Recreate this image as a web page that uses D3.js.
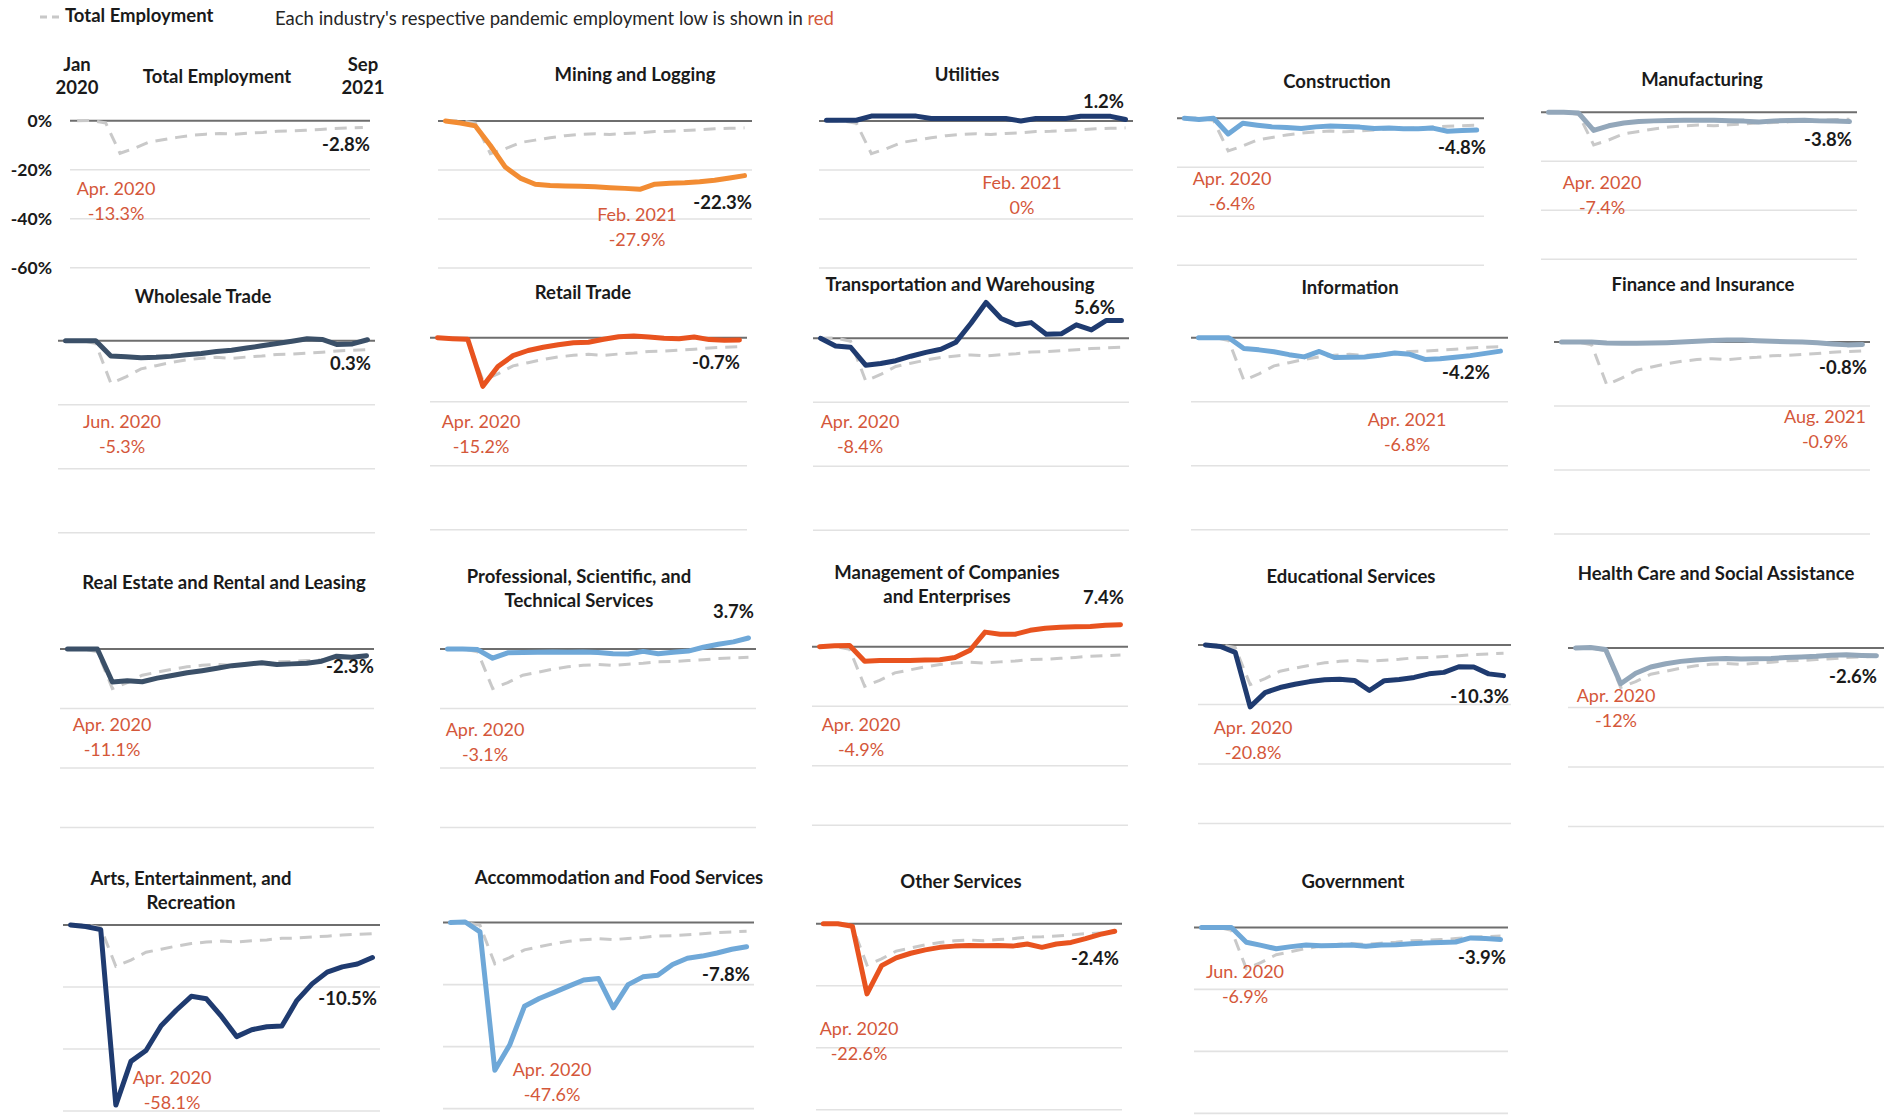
<!DOCTYPE html>
<html>
<head>
<meta charset="UTF-8">
<style>
  body { margin: 0; background: #fff; }
  svg { display: block; font-family: Lato, "Open Sans", sans-serif; }
</style>
</head>
<body>
<script src="https://cdn.jsdelivr.net/npm/d3@7/dist/d3.min.js"></script>
<script>

var width = 1891, height = 1115;

// ---- data ----
var months = ["Jan 2020", "Feb 2020", "Mar 2020", "Apr 2020", "May 2020", "Jun 2020", "Jul 2020",
  "Aug 2020", "Sep 2020", "Oct 2020", "Nov 2020", "Dec 2020", "Jan 2021", "Feb 2021", "Mar 2021",
  "Apr 2021", "May 2021", "Jun 2021", "Jul 2021", "Aug 2021", "Sep 2021"];

var yTicks = [0, -20, -40, -60];

// % change in employment since Jan 2020
var totalEmployment = [0, 0.1, -0.9, -13.3, -11.3, -8.8, -7.8, -6.8, -6.0, -5.5, -5.2, -5.5, -5.1, -4.8, -4.3, -4.2, -3.9, -3.6, -3.2, -3.0, -2.8];
var miningLogging  = [0, -0.8, -2.0, -10.0, -18.8, -23.3, -25.8, -26.3, -26.5, -26.6, -26.8, -27.2, -27.5, -27.9, -25.8, -25.4, -25.2, -24.8, -24.2, -23.3, -22.3];
var utilities      = [0.3, 0.3, 0.3, 2.0, 2.0, 2.0, 2.0, 1.0, 1.0, 1.0, 1.0, 1.0, 1.0, 0.0, 1.0, 1.0, 1.0, 1.9, 1.9, 1.9, 0.6];
var construction   = [0, -0.5, 0, -6.4, -2.0, -2.8, -3.5, -3.8, -4.2, -3.5, -3.1, -3.3, -3.6, -4.2, -4.0, -4.3, -4.3, -4.0, -5.3, -5.0, -4.8];
var manufacturing  = [0, 0, -0.3, -7.4, -5.5, -4.4, -3.8, -3.5, -3.3, -3.2, -3.2, -3.2, -3.4, -3.6, -4.0, -3.5, -3.3, -3.2, -3.5, -3.6, -3.8];
var wholesale      = [0, 0, 0, -4.8, -5.0, -5.3, -5.2, -4.9, -4.4, -4.0, -3.4, -3.0, -2.3, -1.6, -0.9, -0.2, 0.6, 0.4, -1.2, -1.0, 0.3];
var retail         = [0, -0.3, -0.5, -15.2, -9.0, -5.6, -4.0, -3.0, -2.2, -1.6, -1.4, -0.5, 0.3, 0.5, 0.2, -0.2, -0.3, 0.2, -0.6, -0.8, -0.7];
var transportation = [0, -2.4, -2.8, -8.4, -7.9, -7.0, -5.6, -4.4, -3.4, -1.2, 4.7, 11.2, 6.2, 4.2, 4.9, 1.3, 1.4, 4.2, 2.6, 5.6, 5.6];
var information    = [0, 0, 0, -3.4, -3.8, -4.4, -5.3, -6.0, -4.3, -6.2, -6.1, -6.0, -5.5, -4.8, -5.2, -6.8, -6.6, -6.1, -5.6, -4.9, -4.2];
var finance        = [0, 0, 0, -0.3, -0.4, -0.4, -0.3, -0.2, 0, 0.2, 0.5, 0.6, 0.6, 0.4, 0.2, 0.1, 0, -0.2, -0.6, -0.9, -0.8];
var realEstate     = [0, 0, 0, -11.1, -10.7, -11.0, -9.8, -8.9, -8.0, -7.3, -6.5, -5.6, -5.1, -4.6, -5.2, -5.0, -4.8, -4.1, -2.4, -2.8, -2.3];
var professional   = [0, 0, -0.2, -3.1, -1.3, -1.2, -1.1, -1.0, -1.1, -1.0, -1.2, -1.6, -1.7, -0.8, -1.6, -1.1, -0.7, 0.6, 1.6, 2.4, 3.7];
var management     = [0, 0.3, 0.4, -4.9, -4.6, -4.6, -4.6, -4.5, -4.4, -3.6, -1.2, 4.9, 4.2, 4.2, 5.5, 6.2, 6.5, 6.7, 6.8, 7.2, 7.4];
var educational    = [0, -0.5, -2.5, -20.8, -16.0, -14.3, -13.2, -12.3, -11.7, -11.5, -11.9, -15.3, -12.0, -11.6, -10.9, -9.7, -9.2, -7.3, -7.4, -9.7, -10.3];
var healthCare     = [0, 0.2, -0.5, -12.0, -8.5, -6.4, -5.3, -4.5, -4.0, -3.7, -3.5, -3.7, -3.6, -3.5, -3.2, -3.0, -2.8, -2.4, -2.3, -2.5, -2.6];
var arts           = [0, -0.5, -1.5, -58.1, -44.0, -40.5, -32.5, -27.5, -23.0, -23.8, -29.5, -36.0, -33.8, -32.8, -32.6, -24.3, -19.0, -15.2, -13.5, -12.6, -10.5];
var accommodation  = [0, 0.2, -3.0, -47.6, -39.5, -27.0, -24.5, -22.5, -20.5, -18.5, -18.0, -27.5, -20.0, -17.5, -17.0, -13.5, -11.5, -10.8, -9.8, -8.6, -7.8];
var otherServices  = [0, 0, -0.8, -22.6, -13.5, -11.0, -9.5, -8.4, -7.6, -7.2, -7.0, -7.1, -7.0, -7.2, -6.5, -7.6, -6.5, -6.0, -4.8, -3.4, -2.4];
var government     = [0, 0, 0, -4.8, -5.8, -6.9, -6.2, -5.7, -5.9, -5.8, -5.7, -6.1, -5.7, -5.6, -5.3, -5.0, -4.9, -4.7, -3.4, -3.6, -3.9];

var panelTitles = ["Total Employment", "Mining and Logging", "Utilities", "Construction", "Manufacturing",
  "Wholesale Trade", "Retail Trade", "Transportation and Warehousing", "Information", "Finance and Insurance",
  "Real Estate and Rental and Leasing", "Professional, Scientific, and|Technical Services",
  "Management of Companies|and Enterprises", "Educational Services", "Health Care and Social Assistance",
  "Arts, Entertainment, and|Recreation", "Accommodation and Food Services", "Other Services", "Government"];

var panelSeries = [null, miningLogging, utilities, construction, manufacturing,
  wholesale, retail, transportation, information, finance,
  realEstate, professional, management, educational, healthCare,
  arts, accommodation, otherServices, government];

var finalLabels = ["-2.8%", "-22.3%", "1.2%", "-4.8%", "-3.8%", "0.3%", "-0.7%", "5.6%", "-4.2%", "-0.8%",
  "-2.3%", "3.7%", "7.4%", "-10.3%", "-2.6%", "-10.5%", "-7.8%", "-2.4%", "-3.9%"];
var lowMonths = ["Apr. 2020", "Feb. 2021", "Feb. 2021", "Apr. 2020", "Apr. 2020", "Jun. 2020", "Apr. 2020",
  "Apr. 2020", "Apr. 2021", "Aug. 2021", "Apr. 2020", "Apr. 2020", "Apr. 2020", "Apr. 2020", "Apr. 2020",
  "Apr. 2020", "Apr. 2020", "Apr. 2020", "Jun. 2020"];
var lowValues = ["-13.3%", "-27.9%", "0%", "-6.4%", "-7.4%", "-5.3%", "-15.2%", "-8.4%", "-6.8%", "-0.9%",
  "-11.1%", "-3.1%", "-4.9%", "-20.8%", "-12%", "-58.1%", "-47.6%", "-22.6%", "-6.9%"];

// ---- styles & layout ----
var NAVY = "#1f3b70", ORANGE = "#f28c33", RED = "#e8531f", LIGHT = "#6fa8d8", GREYBLUE = "#93a7ba", SLATE = "#3b5068";
var lineColors = [null, ORANGE, NAVY, LIGHT, GREYBLUE, SLATE, RED, NAVY, LIGHT, GREYBLUE,
  SLATE, LIGHT, RED, NAVY, GREYBLUE, NAVY, LIGHT, RED, LIGHT];
var lowColor = "#d4573a";
var boldSize = "18.5px";

// pixels per 20 percentage points, per row of small charts
var rowStep = [49, 64, 59.5, 62];

// plot box: x0, x1, y of 0%, row; then title, last-value label and low label anchors
var layout = [
  {x0: 70,   x1: 370,  zero: 120.7, row: 0, title: [217, 77],   last: [370, 145],  low: [116, 189]},
  {x0: 438,  x1: 752,  zero: 121,   row: 0, title: [635, 75],   last: [752, 203],  low: [637, 215]},
  {x0: 819,  x1: 1133, zero: 121,   row: 0, title: [967, 75],   last: [1124, 102], low: [1022, 183]},
  {x0: 1177, x1: 1484, zero: 118.3, row: 0, title: [1337, 82],  last: [1486, 148], low: [1232, 179]},
  {x0: 1541, x1: 1857, zero: 112.3, row: 0, title: [1702, 80],  last: [1852, 140], low: [1602, 183]},
  {x0: 58,   x1: 375,  zero: 340.7, row: 1, title: [203, 297],  last: [371, 364],  low: [122, 422]},
  {x0: 430,  x1: 747,  zero: 337.7, row: 1, title: [583, 293],  last: [740, 363],  low: [481, 422]},
  {x0: 813,  x1: 1129, zero: 338.3, row: 1, title: [960, 285],  last: [1115, 308], low: [860, 422]},
  {x0: 1191, x1: 1508, zero: 337.7, row: 1, title: [1350, 288], last: [1490, 373], low: [1407, 420]},
  {x0: 1554, x1: 1870, zero: 342,   row: 1, title: [1703, 285], last: [1867, 368], low: [1825, 417]},
  {x0: 60,   x1: 374,  zero: 649,   row: 2, title: [224, 583],  last: [374, 667],  low: [112, 725]},
  {x0: 440,  x1: 756,  zero: 649,   row: 2, title: [579, 577],  last: [754, 612],  low: [485, 730]},
  {x0: 812,  x1: 1128, zero: 646.7, row: 2, title: [947, 573],  last: [1124, 598], low: [861, 725]},
  {x0: 1198, x1: 1511, zero: 645,   row: 2, title: [1351, 577], last: [1509, 697], low: [1253, 728]},
  {x0: 1568, x1: 1884, zero: 648,   row: 2, title: [1716, 574], last: [1877, 677], low: [1616, 696]},
  {x0: 63,   x1: 380,  zero: 925,   row: 3, title: [191, 879],  last: [377, 999],  low: [172, 1078]},
  {x0: 443,  x1: 754,  zero: 922.6, row: 3, title: [619, 878],  last: [750, 975],  low: [552, 1070]},
  {x0: 816,  x1: 1122, zero: 923.8, row: 3, title: [961, 882],  last: [1119, 959], low: [859, 1029]},
  {x0: 1194, x1: 1508, zero: 927.4, row: 3, title: [1353, 882], last: [1506, 958], low: [1245, 972]}
];

var svg = d3.select("body").append("svg")
    .attr("width", width).attr("height", height);

// header legend
var head = svg.append("g");
head.append("line")
    .attr("x1", 40).attr("x2", 61).attr("y1", 17).attr("y2", 17)
    .style("stroke", "#c8c8c8").style("stroke-width", 3).style("stroke-dasharray", "7,5");
head.append("text")
    .attr("x", 65).attr("y", 16).attr("dy", "0.35em")
    .style("font-size", boldSize).style("font-weight", "bold").style("fill", "#1a1a1a")
    .text("Total Employment");
var note = head.append("text")
    .attr("x", 275).attr("y", 19).attr("dy", "0.35em")
    .style("font-size", "18.5px").style("fill", "#262626");
note.append("tspan").text("Each industry's respective pandemic employment low is shown in ");
note.append("tspan").style("fill", lowColor).text("red");

var line = d3.line().curve(d3.curveLinear);

layout.forEach(function(p, i) {
  var x = d3.scalePoint().domain(months).range([p.x0, p.x1]).padding(0.5);
  var y = d3.scaleLinear().domain([-60, 0]).range([p.zero + 3 * rowStep[p.row], p.zero]);
  var g = svg.append("g").attr("class", "panel");

  // gridlines
  g.selectAll(".grid").data(yTicks.slice(1)).join("line")
      .attr("class", "grid")
      .attr("x1", p.x0).attr("x2", p.x1)
      .attr("y1", function(d) { return y(d); }).attr("y2", function(d) { return y(d); })
      .style("stroke", "#e2e2e2").style("stroke-width", 1.6);
  g.append("line")
      .attr("x1", p.x0).attr("x2", p.x1).attr("y1", y(0)).attr("y2", y(0))
      .style("stroke", "#6e6e6e").style("stroke-width", 2);

  line.x(function(d, k) { return x(months[k]); }).y(function(d) { return y(d); });

  // total employment reference
  g.append("path")
      .attr("d", line(totalEmployment))
      .style("fill", "none").style("stroke", "#c9c9c9").style("stroke-width", 3)
      .style("stroke-dasharray", "12,8");

  if (panelSeries[i]) {
    g.append("path")
        .attr("d", line(panelSeries[i]))
        .style("fill", "none").style("stroke", lineColors[i]).style("stroke-width", 5)
        .style("stroke-linejoin", "round").style("stroke-linecap", "round");
  }

  // title
  var t = g.append("text")
      .attr("x", p.title[0]).attr("y", p.title[1])
      .attr("text-anchor", "middle")
      .style("font-size", boldSize).style("font-weight", "bold").style("fill", "#1a1a1a");
  panelTitles[i].split("|").forEach(function(s, k) {
    t.append("tspan").attr("x", p.title[0]).attr("dy", k === 0 ? "0.35em" : "24px").text(s);
  });

  // last value
  g.append("text")
      .attr("x", p.last[0]).attr("y", p.last[1]).attr("dy", "0.35em")
      .attr("text-anchor", "end")
      .style("font-size", boldSize).style("font-weight", "bold").style("fill", "#1a1a1a")
      .text(finalLabels[i]);

  // pandemic low
  var lo = g.append("text")
      .attr("text-anchor", "middle")
      .style("font-size", "18px").style("fill", lowColor);
  lo.append("tspan").attr("x", p.low[0]).attr("y", p.low[1]).attr("dy", "0.35em").text(lowMonths[i]);
  lo.append("tspan").attr("x", p.low[0]).attr("y", p.low[1] + 24.5).attr("dy", "0.35em").text(lowValues[i]);

  // y axis and date ends only on the first chart
  if (i === 0) {
    var ax = g.append("g")
        .attr("transform", "translate(" + (p.x0 - 18) + ",0)")
        .call(d3.axisLeft(y).tickValues(yTicks).tickSize(0).tickPadding(0)
          .tickFormat(function(d) { return d + "%"; }));
    ax.select(".domain").remove();
    ax.selectAll("text")
        .style("font-family", "Lato, 'Open Sans', sans-serif")
        .style("font-size", "17.5px").style("font-weight", "bold").style("fill", "#1a1a1a");

    var ends = [[months[0], 77], [months[months.length - 1], 363]];
    ends.forEach(function(e) {
      var parts = e[0].split(" ");
      var tx = g.append("text").attr("text-anchor", "middle")
          .style("font-size", boldSize).style("font-weight", "bold").style("fill", "#1a1a1a");
      tx.append("tspan").attr("x", e[1]).attr("y", 65).attr("dy", "0.35em").text(parts[0]);
      tx.append("tspan").attr("x", e[1]).attr("y", 88).attr("dy", "0.35em").text(parts[1]);
    });
  }
});

</script>
</body>
</html>
